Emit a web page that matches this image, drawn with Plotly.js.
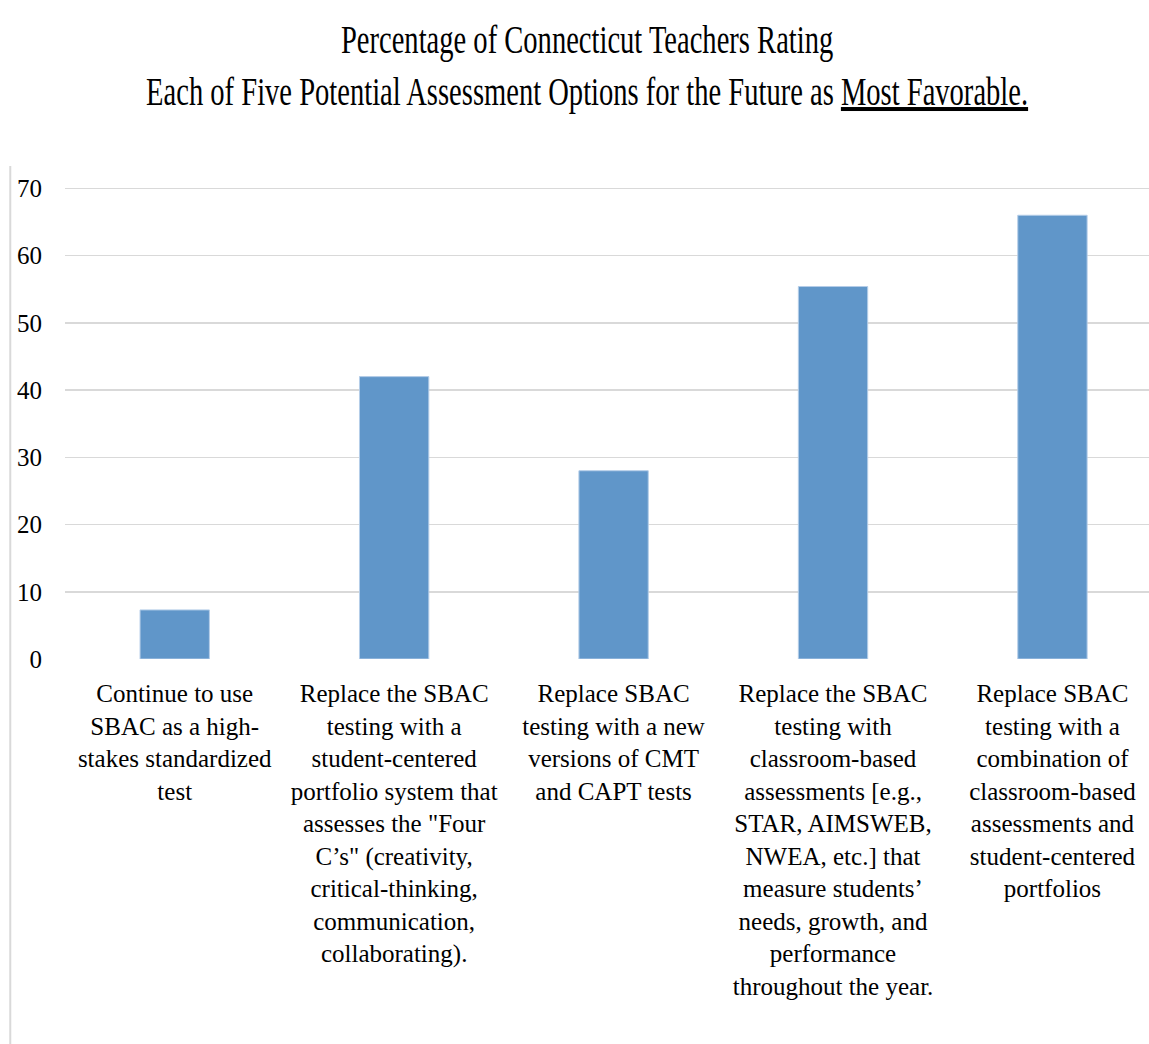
<!DOCTYPE html>
<html>
<head>
<meta charset="utf-8">
<script src="https://cdn.plot.ly/plotly-3.0.1.min.js"></script>
<style>
  html, body { margin: 0; padding: 0; background: #ffffff; }
  #chart { width: 1149px; height: 1044px; }
</style>
</head>
<body>
<div id="chart"></div>
<script>
const categories = [
  "Continue to use<br>SBAC as a high-<br>stakes standardized<br>test",
  "Replace the SBAC<br>testing with a<br>student-centered<br>portfolio system that<br>assesses the \"Four<br>C’s\" (creativity,<br>critical-thinking,<br>communication,<br>collaborating).",
  "Replace SBAC<br>testing with a new<br>versions of CMT<br>and CAPT tests",
  "Replace the SBAC<br>testing with<br>classroom-based<br>assessments [e.g.,<br>STAR, AIMSWEB,<br>NWEA, etc.] that<br>measure students’<br>needs, growth, and<br>performance<br>throughout the year.",
  "Replace SBAC<br>testing with a<br>combination of<br>classroom-based<br>assessments and<br>student-centered<br>portfolios"
];
const percentages = [7.3, 42.0, 28.0, 55.4, 66.0];
const yTickValues = [0, 10, 20, 30, 40, 50, 60, 70];
const titleLines = [
  "Percentage of Connecticut Teachers Rating",
  "Each of Five Potential Assessment Options for the Future as <u>Most Favorable.</u>"
];

const serif = "'Liberation Serif', 'Times New Roman', serif";

const trace = {
  type: 'bar',
  x: [0, 1, 2, 3, 4],
  y: percentages,
  marker: { color: '#6096c9', line: { color: '#b4cde8', width: 1 } },
  hoverinfo: 'skip'
};

const layout = {
  width: 1149,
  height: 1044,
  paper_bgcolor: '#ffffff',
  plot_bgcolor: '#ffffff',
  showlegend: false,
  margin: { l: 65, r: 0, t: 185.1, b: 385, pad: 0 },
  bargap: 0.684,
  title: {
    text: titleLines.join('<br>'),
    font: { family: serif, size: 40, color: '#000000' },
    x: 0.511, xref: 'container', xanchor: 'center',
    y: 0.9495, yref: 'container', yanchor: 'top'
  },
  xaxis: {
    range: [-0.5, 4.44],
    tickmode: 'array',
    tickvals: [0, 1, 2, 3, 4],
    ticktext: categories,
    tickangle: 0,
    showgrid: false,
    zeroline: false,
    showline: false,
    ticks: '',
    ticklabelstandoff: 17,
    tickfont: { family: serif, size: 25, color: '#000000' },
    fixedrange: true
  },
  yaxis: {
    range: [0, 70.5],
    tickmode: 'array',
    tickvals: yTickValues,
    ticktext: yTickValues.map(String),
    showgrid: true,
    gridcolor: '#d9d9d9',
    gridwidth: 1.5,
    zeroline: false,
    showline: false,
    ticks: '',
    ticklabelstandoff: 22,
    tickfont: { family: serif, size: 25, color: '#000000' },
    fixedrange: true
  },
  shapes: [
    {
      type: 'line', xref: 'paper', yref: 'paper',
      x0: -0.0505, x1: -0.0505, y0: 1.04, y1: -0.815,
      line: { color: '#d9d9d9', width: 2 }
    }
  ]
};

Plotly.newPlot('chart', [trace], layout, { staticPlot: true, displayModeBar: false }).then(function (gd) {
  // condense the title horizontally, as in the original
  const g = gd.querySelector('.g-gtitle');
  if (g) {
    const cx = 587;
    g.setAttribute('transform', 'translate(' + cx + ',0) scale(0.714,1) translate(' + (-cx) + ',0)');
  }
});
</script>
</body>
</html>
